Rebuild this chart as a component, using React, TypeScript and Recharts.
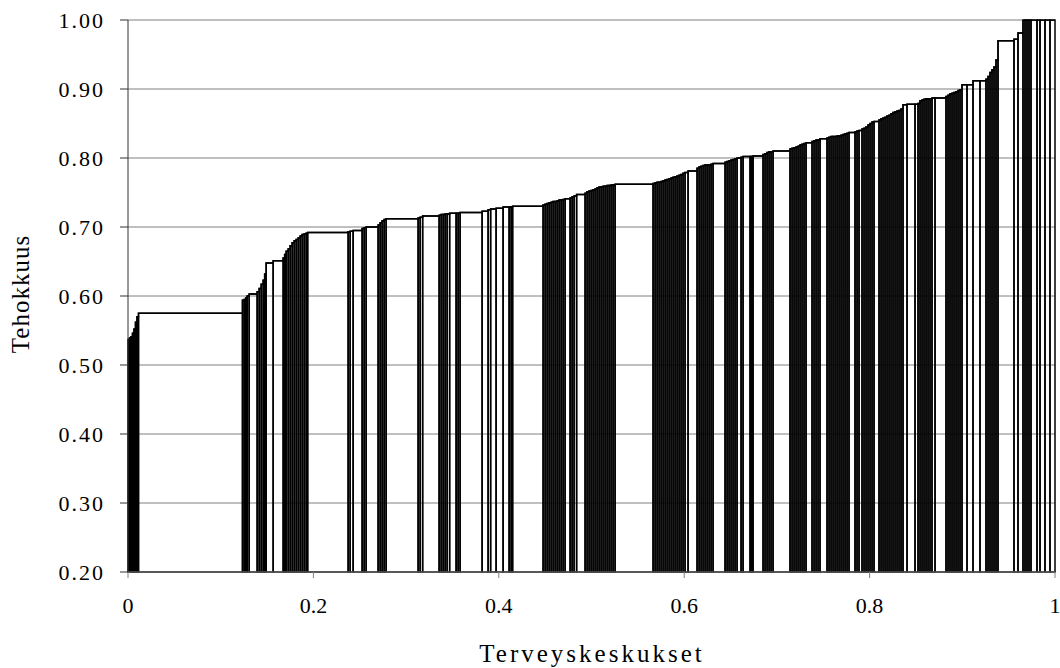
import {
  ComposedChart,
  Line,
  XAxis,
  YAxis,
  CartesianGrid,
  ReferenceArea,
  Label,
} from 'recharts'

// Salter-diagram: one column per health centre, width = relative size, height = efficiency
const SIZES = [
  1.5, 1.5, 1.5, 1.5, 1.5, 1.5, 1.5, 104,
  1.7, 1.5, 1.5, 2, 8, 2, 2, 2, 1.5, 1.5, 7, 10, 1.5, 1.5, 2, 2, 2, 2, 2, 2, 2, 2, 2, 2, 1.5, 40.5,
  2, 3, 9, 2, 2, 12, 2, 2, 2, 2, 32, 2, 2.5, 16.5, 2, 2, 2, 2, 2.5, 6.5, 2, 2, 22,
  6, 2.5, 5.5, 7, 6, 2, 1.5, 30.5, 2, 2, 2, 2, 2, 2, 2, 2, 2, 2, 2, 5, 2, 2, 2.5, 8.5,
  2, 2, 2, 2, 2, 2, 2, 2, 2, 2, 2, 2, 2, 2, 2,
  38, 2, 2, 2, 2, 2, 2, 2, 2, 2, 2, 2, 2, 2, 2, 2, 2, 3, 9, 2, 2, 2, 2, 2, 2, 2, 2, 12,
  2, 2, 2, 2, 2, 2, 4, 2, 7, 1.5, 1.5, 10, 2, 2, 2, 2, 2, 17, 2, 2, 2, 2, 2, 2, 2, 2, 6,
  2, 2, 2, 2, 7, 2, 2, 2, 2, 2,
  2, 2, 2, 2, 2, 2, 6, 2, 2, 3, 2, 2, 2, 2, 2, 2, 5, 2, 2, 2, 2, 2, 2, 2, 2, 2, 2, 2, 2,
  4, 8, 3, 2, 2, 2, 2, 2, 2, 2, 3, 11, 2, 2, 2, 2, 2, 2, 2, 2, 5, 6, 7, 6,
  2, 2, 2, 2, 2, 2, 16, 4, 5, 2, 2, 2, 2, 6, 3, 5, 5, 5,
]

const EFFICIENCY = [
  0.537, 0.539, 0.541, 0.546, 0.552, 0.562, 0.57, 0.575,
  0.594, 0.595, 0.597, 0.6, 0.603, 0.606, 0.611, 0.617, 0.623, 0.632, 0.648, 0.651, 0.655, 0.66,
  0.665, 0.668, 0.673, 0.677, 0.68, 0.682, 0.684, 0.687, 0.689, 0.69, 0.691, 0.692,
  0.693, 0.694, 0.695, 0.698, 0.699, 0.7, 0.703, 0.706, 0.709, 0.711, 0.712, 0.713, 0.714, 0.716,
  0.717, 0.718, 0.718, 0.719, 0.719, 0.72, 0.72, 0.72, 0.721,
  0.723, 0.725, 0.726, 0.727, 0.729, 0.729, 0.729, 0.73, 0.732, 0.733, 0.734, 0.735, 0.736, 0.737,
  0.737, 0.738, 0.739, 0.739, 0.74, 0.741, 0.742, 0.744, 0.745, 0.747,
  0.749, 0.751, 0.752, 0.753, 0.754, 0.755, 0.757, 0.758, 0.758, 0.759, 0.759, 0.76, 0.76, 0.761, 0.761,
  0.762, 0.763, 0.764, 0.765, 0.765, 0.766, 0.767, 0.768, 0.769, 0.77, 0.771, 0.772, 0.773, 0.774,
  0.775, 0.776, 0.778, 0.779, 0.781, 0.785, 0.787, 0.788, 0.789, 0.79, 0.79, 0.79, 0.791, 0.792,
  0.794, 0.795, 0.796, 0.797, 0.798, 0.799, 0.8, 0.801, 0.802, 0.802, 0.802, 0.803, 0.805, 0.806,
  0.808, 0.809, 0.809, 0.81, 0.813, 0.814, 0.815, 0.816, 0.817, 0.819, 0.82, 0.821, 0.822,
  0.824, 0.825, 0.826, 0.826, 0.828, 0.829, 0.83, 0.831, 0.831, 0.831,
  0.832, 0.832, 0.833, 0.834, 0.835, 0.836, 0.837, 0.838, 0.839, 0.84, 0.842, 0.843, 0.845, 0.848,
  0.85, 0.852, 0.853, 0.855, 0.857, 0.858, 0.859, 0.861, 0.862, 0.864, 0.866, 0.867, 0.868, 0.869, 0.871,
  0.877, 0.878, 0.878, 0.879, 0.883, 0.884, 0.885, 0.886, 0.886, 0.886, 0.887, 0.887, 0.889, 0.891,
  0.893, 0.894, 0.895, 0.896, 0.898, 0.899, 0.906, 0.906, 0.912, 0.912,
  0.914, 0.918, 0.924, 0.928, 0.932, 0.942, 0.97, 0.972, 0.981, 1, 1, 1, 1, 1, 1, 1, 1, 1,
]

const X_TICKS = [0, 0.2, 0.4, 0.6, 0.8, 1]
const Y_TICKS = [0.2, 0.3, 0.4, 0.5, 0.6, 0.7, 0.8, 0.9, 1.0]

const FONT = "'Liberation Serif', 'Times New Roman', serif"

const total = SIZES.reduce((a, b) => a + b, 0)
let acc = 0
const units = SIZES.map((s, i) => {
  const start = acc / total
  acc += s
  return { x: start, end: acc / total, eff: EFFICIENCY[i] }
})
const lineData = [...units.map((u) => ({ x: u.x, eff: u.eff })), { x: 1, eff: EFFICIENCY[EFFICIENCY.length - 1] }]

const tickStyle = { fontSize: 22, fontFamily: FONT, fill: '#000', letterSpacing: 2 }

function XTick(props: any) {
  const { x, y, payload } = props
  return (
    <text x={x} y={y} dy={16} textAnchor="middle" fontSize={22} fontFamily={FONT} fill="#000">
      {String(payload.value)}
    </text>
  )
}

export default function App() {
  return (
    <div style={{ position: 'absolute', left: 0, top: 0, width: 1060, height: 668 }}>
      <ComposedChart
        width={1060}
        height={668}
        data={lineData}
        margin={{ top: 20, right: 5, left: 0, bottom: 0 }}
      >
        <CartesianGrid vertical={false} stroke="#808080" strokeWidth={1} />
        <XAxis
          type="number"
          dataKey="x"
          domain={[0, 1]}
          ticks={X_TICKS}
          height={96}
          stroke="#808080"
          tickSize={6}
          tickMargin={19}
          tick={<XTick />}
        >
          <Label
            content={() => (
              <text x={592} y={662} textAnchor="middle" fontSize={25} fontFamily={FONT} letterSpacing={3} fill="#000">
                Terveyskeskukset
              </text>
            )}
          />
        </XAxis>
        <YAxis
          type="number"
          domain={[0.2, 1]}
          ticks={Y_TICKS}
          allowDataOverflow
          tickFormatter={(v: number) => v.toFixed(2)}
          width={128}
          stroke="#333"
          tickSize={8}
          tickMargin={15}
          tick={tickStyle}
        >
          <Label
            content={() => (
              <text
                x={20}
                y={294}
                transform="rotate(-90 20 294)"
                textAnchor="middle"
                dominantBaseline="central"
                fontSize={25}
                fontFamily={FONT}
                letterSpacing={1}
                fill="#000"
              >
                Tehokkuus
              </text>
            )}
          />
        </YAxis>
        {units.map((u, i) => (
          <ReferenceArea
            key={i}
            x1={u.x}
            x2={u.end}
            y1={0.2}
            y2={u.eff}
            fill="none"
            fillOpacity={0}
            stroke="#000"
            strokeWidth={1.5}
            ifOverflow="visible"
          />
        ))}
        <Line
          type="stepAfter"
          dataKey="eff"
          stroke="#000"
          strokeWidth={1.5}
          dot={false}
          isAnimationActive={false}
        />
      </ComposedChart>
    </div>
  )
}
